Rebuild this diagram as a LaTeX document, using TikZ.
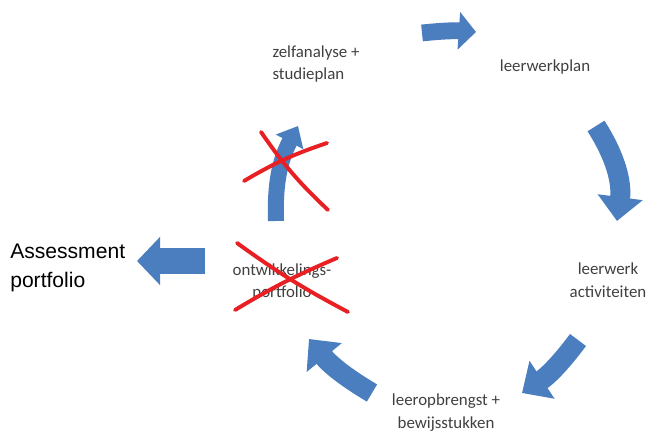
\documentclass[tikz,border=0pt]{standalone}
\usepackage{fontspec}
\setmainfont{Carlito}
\newfontfamily\arialfont{Liberation Sans}
\usetikzlibrary{arrows.meta}

\begin{document}
\begin{tikzpicture}[
        steplabel/.style={font=\fontsize{12}{16}\selectfont, text=black!75, inner sep=0pt},
        blockarrow/.style={draw=cycleblue, line width=0.5cm, -{Triangle[width=1.1cm, length=0.6cm]}},
        smallarrow/.style={draw=cycleblue, line width=0.4cm, -{Triangle[width=0.75cm, length=0.45cm]}},
        redcross/.style={draw=crossred, line width=2.8pt, line cap=round}
    ]

        % kleuren
        \definecolor{cycleblue}{RGB}{74, 126, 190}
        \definecolor{crossred}{RGB}{232, 32, 36}

        % vaste afmetingen van de figuur
        \useasboundingbox (0, 0) rectangle (16.225, 10.8);

        % stappen van de cyclus
        \node[steplabel, align=left] (zelf) at (7.9, 9.2) {zelfanalyse +\\studieplan};
        \node[steplabel] (plan) at (13.625, 9.125) {leerwerkplan};
        \node[steplabel, align=center] (activ) at (15.2, 3.8) {leerwerk\\activiteiten};
        \node[steplabel, align=center] (opbrengst) at (11.15, 0.48) {leeropbrengst +\\bewijsstukken};
        \node[steplabel, align=center] (ontw) at (7.05, 3.75) {ontwikkelings-\\portfolio};

        % assessment portfolio
        \node[font=\arialfont\fontsize{15}{21}\selectfont, align=left, anchor=west, inner sep=0pt] (assess) at (0.25, 4.1) {Assessment\\portfolio};

        % eindpunten van de pijlen
        \coordinate (p1a) at (10.55, 9.975);  \coordinate (p1b) at (11.9, 10.0);
        \coordinate (p2a) at (14.9, 7.65);    \coordinate (p2b) at (15.425, 5.275);
        \coordinate (p3a) at (14.45, 2.3);    \coordinate (p3b) at (13.05, 0.975);
        \coordinate (p4a) at (9.3, 0.975);    \coordinate (p4b) at (7.725, 2.325);
        \coordinate (p5a) at (6.9, 5.275);    \coordinate (p5b) at (7.45, 7.65);
        \coordinate (p6a) at (5.125, 4.275);  \coordinate (p6b) at (3.425, 4.275);

        % pijlen van de cyclus
        \draw[blockarrow, line width=0.42cm, -{Triangle[width=0.92cm, length=0.43cm]}] (p1a) to[bend left=5] (p1b);
        \draw[blockarrow] (p2a) to[bend left=20] (p2b);
        \draw[blockarrow] (p3a) to[bend left=10] (p3b);
        \draw[blockarrow] (p4a) to[bend left=10] (p4b);
        \draw[smallarrow] (p5a) to[bend left=15] (p5b);

        % pijl naar assessment portfolio
        \draw[blockarrow, line width=0.67cm, -{Triangle[width=1.18cm, length=0.58cm]}] (p6a) -- (p6b);

        % rode kruisen
        \draw[redcross] (6.525, 7.5) to[bend right=6] (8.2, 5.55);
        \draw[redcross] (6.1, 6.275) to[bend left=6] (8.175, 7.225);
        \draw[redcross] (5.925, 4.725) to[bend right=4] (8.7, 3.0);
        \draw[redcross] (5.875, 3.05) to[bend left=4] (8.425, 4.35);

    \end{tikzpicture}
\end{document}
